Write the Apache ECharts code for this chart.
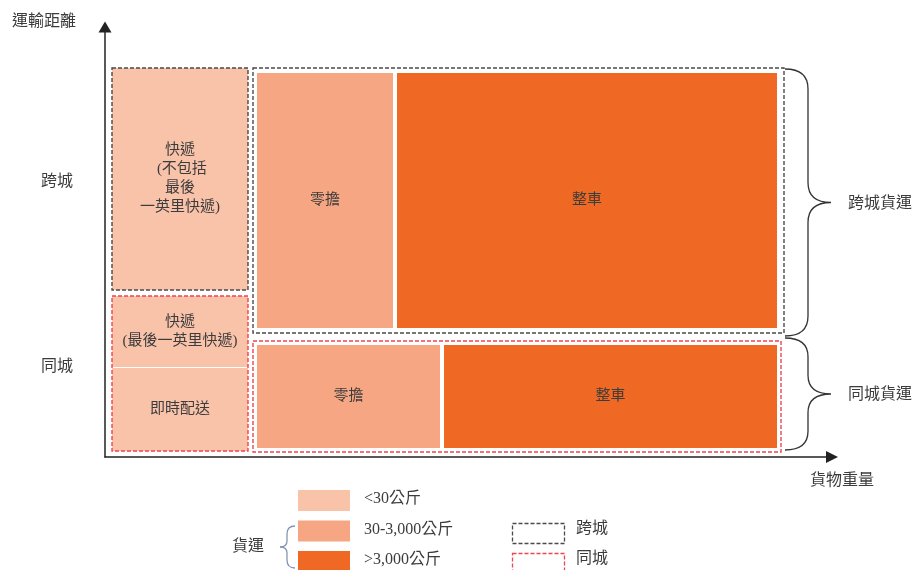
<!DOCTYPE html>
<html>
<head>
<meta charset="utf-8">
<script src="https://cdn.jsdelivr.net/npm/echarts@6/dist/echarts.min.js"></script>
<style>
  html, body { margin: 0; padding: 0; background: #fff; }
  #main { width: 912px; height: 570px; }
</style>
</head>
<body>
<div id="main"></div>
<script>
// 區塊（單位 = 座標軸刻度）
var blockNames = ['快遞\n (不包括\n最後\n一英里快遞)', '快遞\n(最後一英里快遞)', '即時配送', '零擔', '整車', '零擔', '整車'];
var blockTier = [0, 0, 0, 1, 2, 1, 2];
var blockX = [[7, 143], [7, 143], [7, 143], [152, 288], [292, 672], [152, 335], [339, 672]];
var blockY = [[167, 389], [90, 161], [6, 89], [129, 384], [129, 384], [9, 112], [9, 112]];

// 虛線框：跨城 / 同城
var groupKind = ['跨城', '同城', '跨城', '同城'];
var groupX = [[7, 143], [7, 143], [148, 679], [148, 676]];
var groupY = [[167, 389], [6, 161], [124, 389], [5, 116]];

// 右側大括號
var braceNames = ['跨城貨運', '同城貨運'];
var braceY = [[121, 388], [7, 119]];

var rowNames = ['跨城', '同城'];
var rowY = [275, 90];

var tierNames = ['<30公斤', '30-3,000公斤', '>3,000公斤'];
var tierColors = ['#F9C3AA', '#F6A682', '#F06924'];
var kindColors = { '跨城': '#4a4a4a', '同城': '#EE4450' };

var textColor = '#3c3c3c';
var cjk = '"Liberation Serif", "Noto Sans CJK TC", serif';

var chart = echarts.init(document.getElementById('main'));

var legendGraphics = [];
tierNames.forEach(function (name, i) {
    legendGraphics.push({
        type: 'rect', left: 298, top: 490 + i * 30.5,
        shape: { width: 52, height: 21 },
        style: { fill: tierColors[i] }
    });
    legendGraphics.push({
        type: 'text', left: 364, top: 491 + i * 30.5,
        style: { text: name, fill: textColor, font: '16px ' + cjk }
    });
});
['跨城', '同城'].forEach(function (k, i) {
    legendGraphics.push({
        type: 'rect', left: 510, top: 521 + i * 30,
        shape: { width: 52, height: i === 0 ? 20 : 30 },
        style: { fill: 'none', stroke: kindColors[k], lineWidth: 1.3, lineDash: [4, 2] }
    });
    legendGraphics.push({
        type: 'text', left: 576, top: 521 + i * 30,
        style: { text: k, fill: textColor, font: '16px ' + cjk }
    });
});
legendGraphics.push({
    type: 'text', left: 232, top: 539,
    style: { text: '貨運', fill: textColor, font: '16px ' + cjk }
});
// 圖例小括號
var lb = { stroke: '#8597B0', lineWidth: 1.3, fill: 'none' };
legendGraphics.push({
    type: 'group', left: 0, top: 0,
    children: [
        { type: 'rect', shape: { x: 0, y: 0, width: 0, height: 0 }, style: { fill: 'none' } },
        { type: 'bezierCurve', shape: { x1: 295, y1: 526, cpx1: 287, cpy1: 526, x2: 287, y2: 534 }, style: lb },
        { type: 'line', shape: { x1: 287, y1: 534, x2: 287, y2: 541 }, style: lb },
        { type: 'bezierCurve', shape: { x1: 287, y1: 541, cpx1: 287, cpy1: 547, x2: 280, y2: 547 }, style: lb },
        { type: 'bezierCurve', shape: { x1: 280, y1: 547, cpx1: 287, cpy1: 547, x2: 287, y2: 553 }, style: lb },
        { type: 'line', shape: { x1: 287, y1: 553, x2: 287, y2: 560 }, style: lb },
        { type: 'bezierCurve', shape: { x1: 287, y1: 560, cpx1: 287, cpy1: 568, x2: 295, y2: 568 }, style: lb }
    ]
});

function braceRender(params, api) {
    var i = params.dataIndex;
    var top = api.coord([680, braceY[i][1]]);
    var bot = api.coord([680, braceY[i][0]]);
    var x0 = top[0], xm = x0 + 23, xt = x0 + 46;
    var y0 = top[1], y1 = bot[1], ym = (y0 + y1) / 2;
    var r = Math.min(20, (y1 - y0) / 6);
    var d = 'M' + x0 + ',' + y0 +
        ' Q' + xm + ',' + y0 + ' ' + xm + ',' + (y0 + r) +
        ' L' + xm + ',' + (ym - r) +
        ' Q' + xm + ',' + ym + ' ' + xt + ',' + ym +
        ' Q' + xm + ',' + ym + ' ' + xm + ',' + (ym + r) +
        ' L' + xm + ',' + (y1 - r) +
        ' Q' + xm + ',' + y1 + ' ' + x0 + ',' + y1;
    return {
        type: 'group',
        children: [
            { type: 'path', shape: { pathData: d }, style: { fill: 'none', stroke: '#333', lineWidth: 1.3 } },
            { type: 'text', x: xt + 17, y: ym + 1, style: { text: braceNames[i], fill: textColor, font: '16px ' + cjk, verticalAlign: 'middle' } }
        ]
    };
}

chart.setOption({
    animation: false,
    grid: { left: 105, top: 28, right: 81, bottom: 113 },
    xAxis: {
        type: 'value', min: 0, max: 726,
        axisLine: { show: true, symbol: ['none', 'triangle'], symbolSize: [12, 12], symbolOffset: [0, 1], lineStyle: { color: '#222', width: 1.5 } },
        axisTick: { show: false }, axisLabel: { show: false }, splitLine: { show: false }
    },
    yAxis: {
        type: 'value', min: 0, max: 429,
        axisLine: { show: true, symbol: ['none', 'triangle'], symbolSize: [13, 11], symbolOffset: [0, 1], lineStyle: { color: '#222', width: 1.5 } },
        axisTick: { show: false }, axisLabel: { show: false }, splitLine: { show: false }
    },
    graphic: [
        { type: 'text', left: 12, top: 14, style: { text: '運輸距離', fill: textColor, font: '16px ' + cjk } },
        { type: 'text', left: 810, top: 473, style: { text: '貨物重量', fill: textColor, font: '16px ' + cjk } }
    ].concat(legendGraphics),
    series: [
        {
            type: 'custom',
            data: blockNames,
            clip: false,
            renderItem: function (params, api) {
                var i = params.dataIndex;
                var p0 = api.coord([blockX[i][0], blockY[i][1]]);
                var p1 = api.coord([blockX[i][1], blockY[i][0]]);
                return {
                    type: 'group',
                    children: [
                        { type: 'rect', shape: { x: p0[0], y: p0[1], width: p1[0] - p0[0], height: p1[1] - p0[1] }, style: { fill: tierColors[blockTier[i]] } },
                        { type: 'text', x: (p0[0] + p1[0]) / 2, y: (p0[1] + p1[1]) / 2, style: { text: blockNames[i], fill: textColor, font: '15px ' + cjk, align: 'center', verticalAlign: 'middle', lineHeight: 19 } }
                    ]
                };
            }
        },
        {
            type: 'custom',
            data: groupKind,
            clip: false,
            renderItem: function (params, api) {
                var i = params.dataIndex;
                var p0 = api.coord([groupX[i][0], groupY[i][1]]);
                var p1 = api.coord([groupX[i][1], groupY[i][0]]);
                return {
                    type: 'rect',
                    shape: { x: p0[0], y: p0[1], width: p1[0] - p0[0], height: p1[1] - p0[1] },
                    style: { fill: 'none', stroke: kindColors[groupKind[i]], lineWidth: 1.4, lineDash: [4, 2] }
                };
            }
        },
        {
            type: 'custom',
            data: braceNames,
            clip: false,
            renderItem: braceRender
        },
        {
            type: 'custom',
            data: rowNames,
            clip: false,
            renderItem: function (params, api) {
                var i = params.dataIndex;
                var p = api.coord([0, rowY[i]]);
                return { type: 'text', x: p[0] - 48, y: p[1], style: { text: rowNames[i], fill: textColor, font: '16px ' + cjk, align: 'center', verticalAlign: 'middle' } };
            }
        }
    ]
});
</script>
</body>
</html>
